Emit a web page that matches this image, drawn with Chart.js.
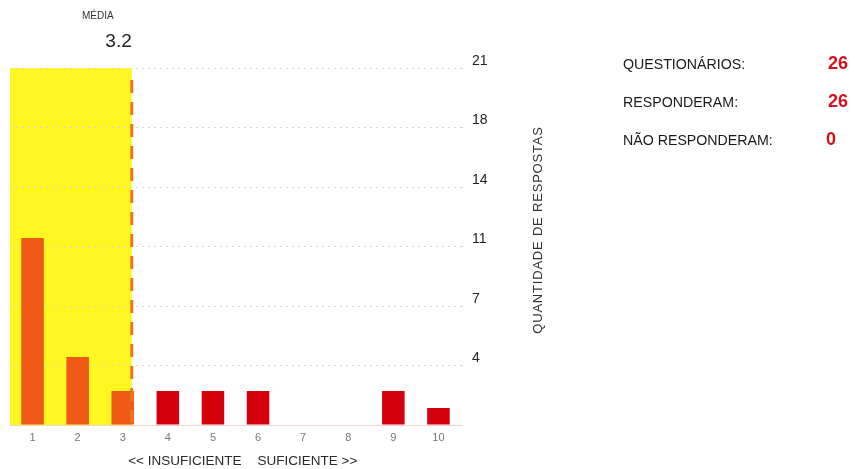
<!DOCTYPE html>
<html>
<head>
<meta charset="utf-8">
<script src="https://cdn.jsdelivr.net/npm/chart.js@4/dist/chart.umd.min.js"></script>
<style>
  body { margin: 0; background: #fff; font-family: "Liberation Sans", Arial, sans-serif; }
  #wrap { position: relative; width: 855px; height: 469px; }
  #panel { position: absolute; left: 623px; top: 56px; color: #1a1a1a; font-size: 14.2px; }
  #panel .row { position: relative; height: 38px; width: 232px; }
  #panel .val { position: absolute; top: -3px; font-size: 18px; font-weight: bold; color: #d3111b; }
</style>
</head>
<body>
<div id="wrap">
  <canvas id="chart" width="855" height="469"></canvas>
  <div id="panel"></div>
</div>
<script>
    // notas 1..10 e quantidade de respostas
    var categories = ['1', '2', '3', '4', '5', '6', '7', '8', '9', '10'];
    var counts = [11, 4, 2, 2, 2, 2, 0, 0, 2, 1];
    var yMax = 21;
    var yStep = 3.5;
    var media = 3.2;
    var summaryLabels = ['QUESTIONÁRIOS:', 'RESPONDERAM:', 'NÃO RESPONDERAM:'];
    var summaryValues = [26, 26, 0];

    var orange = '#f05a16';
    var red = '#d5000d';
    var gridColor = '#dcd6cc';

    // summary panel on the right
    var panel = document.getElementById('panel');
    summaryLabels.forEach(function (label, i) {
        var row = document.createElement('div');
        row.className = 'row';
        row.innerHTML = '<span>' + label + '</span><span class="val" style="left:' +
            (summaryValues[i] < 10 ? 203 : 205) + 'px">' + summaryValues[i] + '</span>';
        panel.appendChild(row);
    });

    /**
     * Paints the yellow "below the average" zone with its dashed border and
     * the extra texts (MÉDIA, axis captions).
     */
    var mediaPlugin = {
        id: 'media',
        beforeDraw: function (chart) {
            var ctx = chart.ctx, area = chart.chartArea;
            var x = chart.scales.x;
            var mx = x.getPixelForValue(media - 1);
            ctx.save();
            ctx.fillStyle = '#fff71f';
            ctx.fillRect(area.left, area.top, mx - area.left, area.bottom - area.top);
            ctx.restore();
        },
        afterDatasetsDraw: function (chart) {
            var ctx = chart.ctx, area = chart.chartArea;
            var x = chart.scales.x;
            var mx = x.getPixelForValue(media - 1);
            ctx.save();
            ctx.strokeStyle = '#ea7a16';
            ctx.lineWidth = 3;
            ctx.setLineDash([13, 9]);
            ctx.beginPath();
            ctx.moveTo(mx, area.top + 12);
            ctx.lineTo(mx, area.bottom);
            ctx.stroke();
            ctx.setLineDash([]);

            ctx.fillStyle = '#333';
            ctx.textBaseline = 'middle';
            ctx.textAlign = 'center';
            ctx.font = '10px "Liberation Sans", Arial, sans-serif';
            ctx.fillText('MÉDIA', mx - 34, 16);
            ctx.fillStyle = '#222';
            ctx.textAlign = 'right';
            ctx.font = '19px "Liberation Sans", Arial, sans-serif';
            ctx.fillText(media.toFixed(1), mx, 42);

            // caption below the x axis, split between 5 and 6
            var split = x.getPixelForValue(4.5);
            ctx.fillStyle = '#2a2a2a';
            ctx.font = '13.5px "Liberation Sans", Arial, sans-serif';
            ctx.textAlign = 'right';
            ctx.fillText('<< INSUFICIENTE', split + 6, 461);
            ctx.textAlign = 'left';
            ctx.fillText('SUFICIENTE >>', split + 22, 461);

            // vertical title, reading bottom to top
            ctx.translate(538, 230);
            ctx.rotate(-Math.PI / 2);
            ctx.textAlign = 'center';
            ctx.font = '13px "Liberation Sans", Arial, sans-serif';
            ctx.letterSpacing = '0.8px';
            ctx.fillStyle = '#333';
            ctx.fillText('QUANTIDADE DE RESPOSTAS', 0, 0);
            ctx.restore();
        }
    };

    new Chart(document.getElementById('chart'), {
        type: 'bar',
        data: {
            labels: categories,
            datasets: [{
                data: counts,
                backgroundColor: counts.map(function (v, i) {
                    return (i + 1) <= media ? orange : red;
                }),
                barPercentage: 0.5,
                categoryPercentage: 1
            }]
        },
        options: {
            responsive: false,
            animation: false,
            layout: { padding: { left: 10, top: 68 } },
            plugins: { legend: { display: false }, tooltip: { enabled: false } },
            scales: {
                x: {
                    grid: { display: false, drawTicks: false },
                    border: { color: '#f3d4d4', width: 1 },
                    ticks: {
                        color: '#777',
                        font: { family: '"Liberation Sans", Arial, sans-serif', size: 11 },
                        padding: 6
                    },
                    afterFit: function (s) { s.height = 44; }
                },
                y: {
                    position: 'right',
                    min: 0,
                    max: yMax,
                    border: { display: false, dash: [2, 4] },
                    grid: {
                        color: gridColor,
                        drawTicks: true,
                        tickLength: 5,
                        tickColor: gridColor,
                        tickBorderDash: [2, 4]
                    },
                    ticks: {
                        stepSize: yStep,
                        padding: 6,
                        labelOffset: -7,
                        color: '#222',
                        font: { family: '"Liberation Sans", Arial, sans-serif', size: 14 },
                        callback: function (v) { return v === 0 ? '' : String(Math.round(v)); }
                    },
                    afterFit: function (s) { s.width = 394; }
                }
            }
        },
        plugins: [mediaPlugin]
    });
</script>
</body>
</html>
